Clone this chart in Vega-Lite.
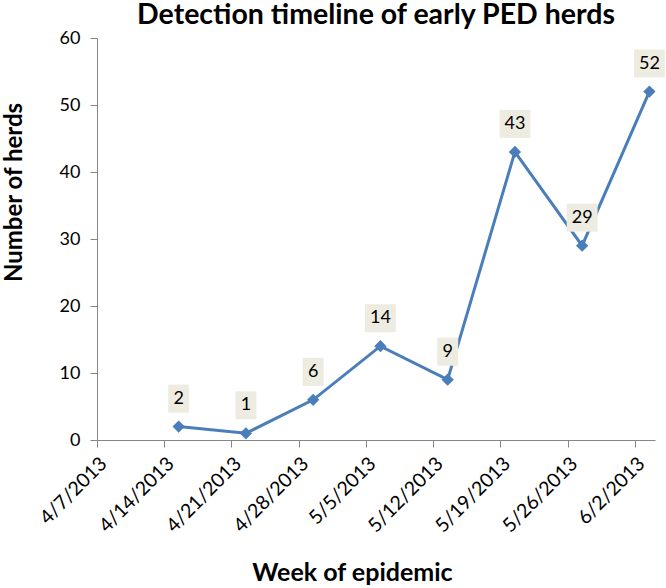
{
  "$schema": "https://vega.github.io/schema/vega-lite/v6.json",
  "width": 558,
  "height": 402,
  "autosize": "none",
  "padding": {"left": 97, "top": 38, "right": 11, "bottom": 148},
  "background": "white",
  "config": {
    "font": "Lato",
    "view": {"stroke": null},
    "axis": {"grid": false, "domainColor": "#868686", "tickColor": "#868686", "labelColor": "#000000", "titleColor": "#000000", "labelFont": "Lato", "titleFont": "Lato"}
  },
  "title": {"text": "Detection timeline of early PED herds", "fontSize": 28.5, "font": "Lato", "fontWeight": "bold", "color": "#000000", "anchor": "middle", "frame": "group", "baseline": "alphabetic", "offset": -23.5},
  "data": {
    "values": [
      {"week": "2013-04-15T12:00:00Z", "herds": 2},
      {"week": "2013-04-22T12:00:00Z", "herds": 1},
      {"week": "2013-04-29T12:00:00Z", "herds": 6},
      {"week": "2013-05-06T12:00:00Z", "herds": 14},
      {"week": "2013-05-13T12:00:00Z", "herds": 9},
      {"week": "2013-05-20T12:00:00Z", "herds": 43},
      {"week": "2013-05-27T12:00:00Z", "herds": 29},
      {"week": "2013-06-03T12:00:00Z", "herds": 52}
    ]
  },
  "encoding": {
    "x": {
      "field": "week", "type": "temporal",
      "scale": {"type": "utc", "nice": false, "domain": [{"year": 2013, "month": "apr", "date": 7, "utc": true}, {"year": 2013, "month": "jun", "date": 4, "hours": 2, "utc": true}]},
      "axis": {
        "title": "Week of epidemic",
        "values": [
          {"year": 2013, "month": "apr", "date": 7, "utc": true},
          {"year": 2013, "month": "apr", "date": 14, "utc": true},
          {"year": 2013, "month": "apr", "date": 21, "utc": true},
          {"year": 2013, "month": "apr", "date": 28, "utc": true},
          {"year": 2013, "month": "may", "date": 5, "utc": true},
          {"year": 2013, "month": "may", "date": 12, "utc": true},
          {"year": 2013, "month": "may", "date": 19, "utc": true},
          {"year": 2013, "month": "may", "date": 26, "utc": true},
          {"year": 2013, "month": "jun", "date": 2, "utc": true}
        ],
        "labelExpr": "utcFormat(datum.value, '%-m/%-d/%Y')",
        "labelAngle": -45, "labelAlign": "right", "labelBaseline": "top",
        "labelFontSize": 19.5, "labelPadding": 7, "tickSize": 7,
        "labelOverlap": false, "labelFlush": false,
        "titleFontSize": 25, "titleFontWeight": "bold",
        "titleX": 255, "titleY": 140, "titleBaseline": "alphabetic", "titleAlign": "center"
      }
    },
    "y": {
      "field": "herds", "type": "quantitative",
      "scale": {"domain": [0, 60], "nice": false},
      "axis": {
        "title": "Number of herds",
        "values": [0, 10, 20, 30, 40, 50, 60],
        "labelFontSize": 18, "tickSize": 7, "labelPadding": 10,
        "titleFontSize": 24, "titleFontWeight": "bold",
        "titleX": -76, "titleY": 154, "titleAlign": "center", "titleBaseline": "alphabetic"
      }
    }
  },
  "layer": [
    {"mark": {"type": "line", "color": "#4A7EBB", "strokeWidth": 3}},
    {"mark": {"type": "point", "shape": "diamond", "filled": true, "size": 150, "color": "#4A7EBB", "opacity": 1}},
    {
      "mark": {"type": "point", "filled": true, "color": "#EEECE1", "opacity": 1, "yOffset": -28, "size": 784},
      "encoding": {"shape": {"condition": {"test": "datum.herds >= 10", "value": "M-1.1,-1H1.1V1H-1.1Z"}, "value": "M-0.75,-1H0.75V1H-0.75Z"}}
    },
    {
      "mark": {"type": "text", "dy": -28, "fontSize": 18, "color": "#000000", "baseline": "middle"},
      "encoding": {"text": {"field": "herds", "type": "quantitative"}}
    }
  ]
}
